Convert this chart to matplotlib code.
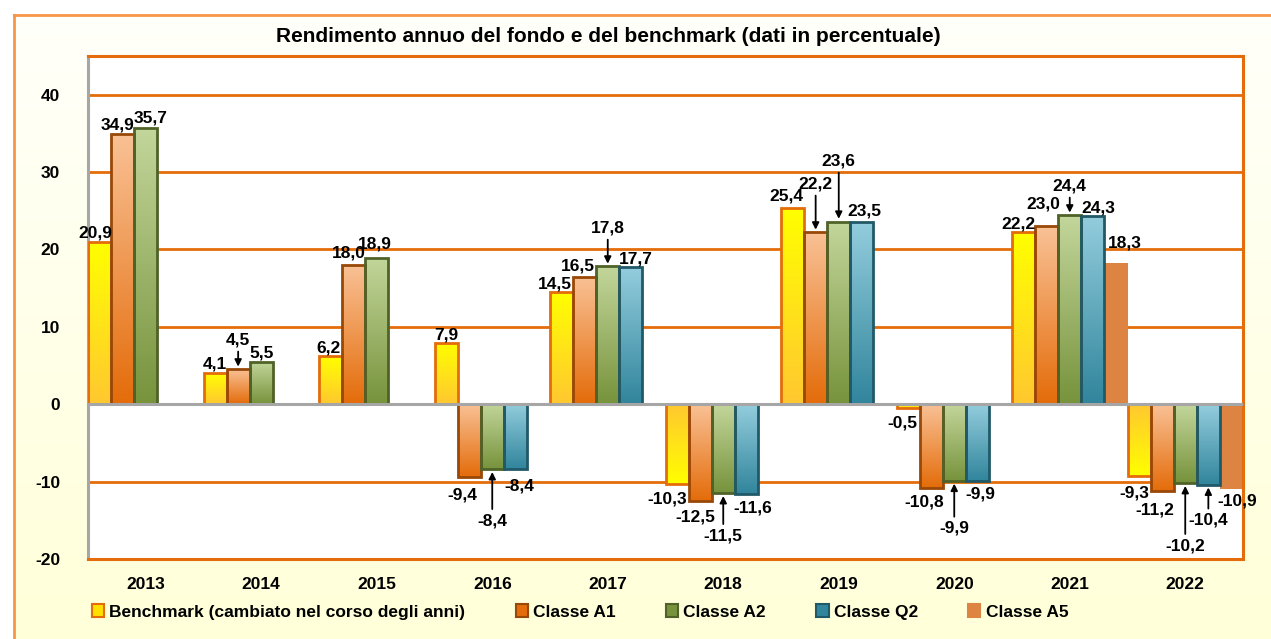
import numpy as np
import matplotlib
matplotlib.use('Agg')
import matplotlib.pyplot as plt
import matplotlib.patches as mpatches
from matplotlib.colors import LinearSegmentedColormap

plt.rcParams['axes.unicode_minus'] = False

# data
years = ['2013', '2014', '2015', '2016', '2017', '2018', '2019', '2020', '2021', '2022']
series_names = ['Benchmark (cambiato nel corso degli anni)', 'Classe A1', 'Classe A2', 'Classe Q2', 'Classe A5']
benchmark = [20.9, 4.1, 6.2, 7.9, 14.5, -10.3, 25.4, -0.5, 22.2, -9.3]
classe_a1 = [34.9, 4.5, 18.0, -9.4, 16.5, -12.5, 22.2, -10.8, 23.0, -11.2]
classe_a2 = [35.7, 5.5, 18.9, -8.4, 17.8, -11.5, 23.6, -9.9, 24.4, -10.2]
classe_q2 = [None, None, None, -8.4, 17.7, -11.6, 23.5, -9.9, 24.3, -10.4]
classe_a5 = [None, None, None, None, None, None, None, None, 18.3, -10.9]
yticks = [-20, -10, 0, 10, 20, 30, 40]

all_series = [benchmark, classe_a1, classe_a2, classe_q2, classe_a5]

# styles: (top colour, bottom colour, edge colour)
styles = [
    ('#FFFF00', '#FFC830', '#E46C0A'),
    ('#F9C195', '#E46C0A', '#984807'),
    ('#C3D69B', '#77933C', '#4F6228'),
    ('#93CDDD', '#31859C', '#215968'),
    ('#DD8443', '#DD8443', None),
]

# label offsets in pixels: (series, year index) -> (dx, gap, arrow)
label_pos = {
    (0, 0): (-4, 5, False), (0, 1): (0, 4, False), (0, 2): (-2, 4, False),
    (0, 3): (0, 4, False), (0, 4): (-7, 4, False), (0, 5): (-10, 8, False),
    (0, 6): (-6, 7, False), (0, 7): (-6, 7, False), (0, 8): (-5, 4, False),
    (0, 9): (-5, 9, False),
    (1, 0): (-5, 5, False), (1, 1): (0, 25, True), (1, 2): (-5, 7, False),
    (1, 3): (-7, 11, False), (1, 4): (-7, 6, False), (1, 5): (-5, 9, False),
    (1, 6): (0, 44, True), (1, 7): (-7, 7, False), (1, 8): (-3, 18, False),
    (1, 9): (-7, 12, False),
    (2, 0): (5, 5, False), (2, 1): (0, 4, False), (2, 2): (-2, 9, False),
    (2, 3): (0, 44, True), (2, 4): (0, 34, True), (2, 5): (0, 35, True),
    (2, 6): (0, 56, True), (2, 7): (0, 40, True), (2, 8): (0, 25, True),
    (2, 9): (0, 55, True),
    (3, 3): (4, 9, False), (3, 4): (5, 4, False), (3, 5): (6, 7, False),
    (3, 6): (3, 7, False), (3, 7): (3, 6, False), (3, 8): (5, 4, False),
    (3, 9): (0, 28, True),
    (4, 8): (9, 15, False), (4, 9): (6, 5, False),
}

font = 'Liberation Sans'

W, H = 1271, 639
fig = plt.figure(figsize=(W / 100, H / 100), dpi=100)
fig.patch.set_facecolor('white')

# cream background frame
bg = fig.add_axes([14 / W, -0.02, 1.02, (H - 15) / H + 0.02])
bg.imshow(np.linspace(0, 1, 256).reshape(-1, 1), origin='lower', aspect='auto',
          cmap=LinearSegmentedColormap.from_list('bg', ['#FFFFD8', '#FFFFFA']),
          extent=(0, 1, 0, 1))
bg.set_xlim(0, 1)
bg.set_ylim(0, 1)
bg.set_xticks([])
bg.set_yticks([])
for s in bg.spines.values():
    s.set_color('#F79646')
    s.set_linewidth(2)

ax = fig.add_axes([88 / W, (H - 559) / H, (1243 - 88) / W, (559 - 56) / H])
ax.set_facecolor('white')

n = len(years)
x = np.arange(n)
width = 0.2


def gradient_bar(patch, top, bottom):
    x0, y0 = patch.get_x(), patch.get_y()
    w, h = patch.get_width(), patch.get_height()
    lo, hi = min(y0, y0 + h), max(y0, y0 + h)
    cmap = LinearSegmentedColormap.from_list('g', [bottom, top])
    im = ax.imshow(np.linspace(0, 1, 128).reshape(-1, 1), cmap=cmap, origin='lower',
                   aspect='auto', extent=(x0, x0 + w, lo, hi), zorder=2)
    im.set_clip_path(patch)


for j, vals in enumerate(all_series):
    top, bottom, edge = styles[j]
    xs = x - 0.4 + j * width
    for i, v in enumerate(vals):
        if v is None:
            continue
        b = ax.bar(xs[i], v, width, facecolor='none',
                   edgecolor=edge if edge else 'none', linewidth=2, zorder=3)[0]
        if j == 0 and v < 0:
            gradient_bar(b, bottom, top)
        else:
            gradient_bar(b, top, bottom)
        dx, gap, arrow = label_pos[(j, i)]
        txt = f'{v:.1f}'.replace('.', ',')
        if v >= 0:
            offs, va = (dx, gap), 'baseline'
        else:
            offs, va = (dx, -gap), 'top'
        aprops = None
        if arrow:
            aprops = dict(arrowstyle='-|>', color='black', lw=1.3,
                          mutation_scale=10, shrinkA=1, shrinkB=2)
        ax.annotate(txt, xy=(xs[i], v), xytext=offs, textcoords='offset pixels',
                    ha='center', va=va, fontsize=12.5, fontweight='bold',
                    family=font, arrowprops=aprops, zorder=5)

ax.set_xlim(-0.5, n - 0.5)
ax.set_ylim(-20, 45)
ax.set_yticks(yticks)
ax.set_xticks(x)
ax.set_xticklabels(years)
ax.tick_params(length=0)
ax.tick_params(axis='y', pad=20)
ax.tick_params(axis='x', pad=13)
for lab in ax.get_xticklabels() + ax.get_yticklabels():
    lab.set_fontsize(12.5)
    lab.set_fontweight('bold')
    lab.set_family(font)

for yv in yticks:
    if yv in (0, -20):
        continue
    ax.axhline(yv, color='#E46C0A', lw=2, zorder=1)
ax.axhline(0, color='#A6A6A6', lw=2.2, zorder=4)

for side in ['top', 'right', 'bottom']:
    ax.spines[side].set_color('#E46C0A')
    ax.spines[side].set_linewidth(2.2)
ax.spines['left'].set_color('#A6A6A6')
ax.spines['left'].set_linewidth(2.2)

fig.text(608 / W, (H - 37) / H, 'Rendimento annuo del fondo e del benchmark (dati in percentuale)',
         ha='center', va='center', fontsize=15, fontweight='bold', family=font)

handles = []
for j, name in enumerate(series_names):
    top, bottom, edge = styles[j]
    handles.append(mpatches.Patch(facecolor=bottom if j != 0 else '#FFE000',
                                  edgecolor=edge if edge else bottom, linewidth=1.5, label=name))
fig.legend(handles=handles, loc='center left', bbox_to_anchor=(92 / W, (H - 612) / H),
           ncol=5, frameon=False, handlelength=0.7, handleheight=0.7, handletextpad=0.3,
           columnspacing=2.9, borderpad=0, borderaxespad=0,
           prop={'family': font, 'weight': 'bold', 'size': 12.5})

fig.savefig('out.png', dpi=100)
